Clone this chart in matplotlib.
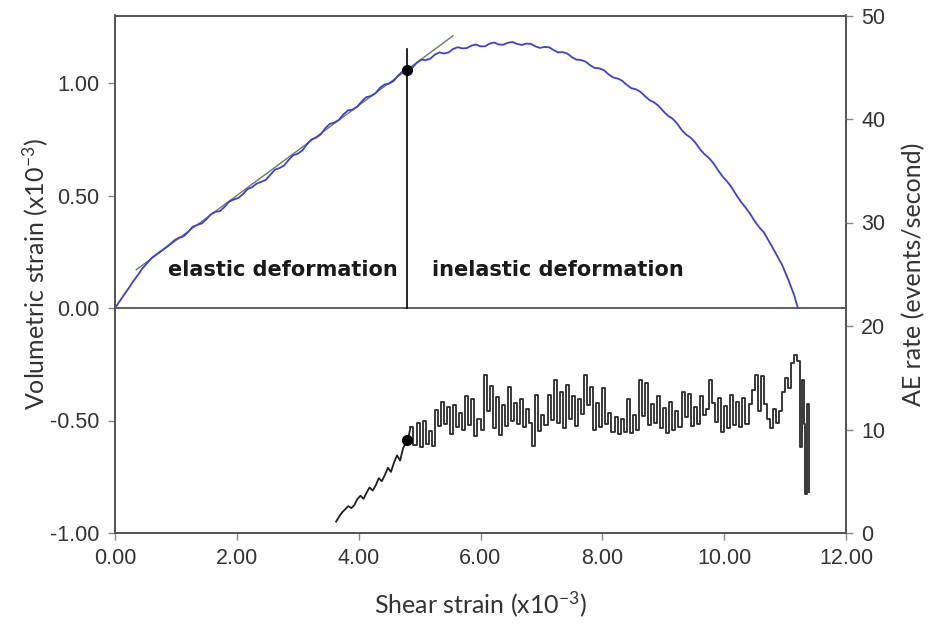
import matplotlib
matplotlib.use("Agg")
import matplotlib.pyplot as plt

# ---------------- data ----------------
# volumetric strain curve (left axis) vs shear strain (x10^-3)
vol_x = [0.00, 0.08, 0.15, 0.23, 0.30, 0.38, 0.45, 0.53, 0.60, 0.68, 0.75, 0.83, 0.90, 0.975,
         1.05, 1.125, 1.20, 1.275, 1.35, 1.425, 1.50, 1.575, 1.65, 1.725, 1.80, 1.875, 1.95,
         2.025, 2.10, 2.175, 2.25, 2.32, 2.40, 2.475, 2.55, 2.625, 2.70, 2.775, 2.85, 2.925,
         3.00, 3.075, 3.15, 3.225, 3.30, 3.375, 3.45, 3.525, 3.60, 3.675, 3.75, 3.825, 3.90,
         3.975, 4.05, 4.125, 4.20, 4.275, 4.35, 4.425, 4.50, 4.575, 4.65, 4.725, 4.80, 4.875,
         4.95, 5.025, 5.10, 5.175, 5.25, 5.325, 5.40, 5.475, 5.55, 5.625, 5.70, 5.775, 5.85,
         5.925, 6.00, 6.075, 6.15, 6.225, 6.30, 6.375, 6.45, 6.525, 6.60, 6.675, 6.75, 6.825,
         6.90, 6.975, 7.05, 7.125, 7.20, 7.275, 7.35, 7.425, 7.50, 7.575, 7.65, 7.725, 7.80,
         7.875, 7.95, 8.025, 8.10, 8.175, 8.25, 8.325, 8.40, 8.475, 8.55, 8.625, 8.70, 8.775,
         8.85, 8.925, 9.00, 9.075, 9.15, 9.225, 9.30, 9.375, 9.45, 9.525, 9.60, 9.675, 9.75,
         9.825, 9.90, 9.975, 10.05, 10.125, 10.20, 10.275, 10.35, 10.425, 10.50, 10.575,
         10.65, 10.80, 10.95, 11.05, 11.15, 11.21]
vol_y = [0.000, 0.031, 0.060, 0.090, 0.119, 0.148, 0.176, 0.200, 0.222, 0.238, 0.252, 0.268, 0.283, 0.301,
         0.312, 0.318, 0.338, 0.361, 0.369, 0.376, 0.394, 0.417, 0.427, 0.431, 0.450, 0.473, 0.482,
         0.489, 0.506, 0.528, 0.537, 0.552, 0.561, 0.569, 0.592, 0.615, 0.622, 0.633, 0.658, 0.679,
         0.686, 0.700, 0.727, 0.749, 0.757, 0.771, 0.798, 0.818, 0.824, 0.836, 0.861, 0.878, 0.882,
         0.894, 0.918, 0.937, 0.942, 0.954, 0.979, 0.993, 0.997, 1.009, 1.034, 1.052, 1.058, 1.066,
         1.089, 1.103, 1.102, 1.108, 1.126, 1.136, 1.131, 1.136, 1.151, 1.159, 1.154, 1.155, 1.166,
         1.171, 1.163, 1.163, 1.175, 1.180, 1.171, 1.170, 1.179, 1.182, 1.174, 1.169, 1.175, 1.174,
         1.163, 1.156, 1.160, 1.159, 1.146, 1.136, 1.137, 1.131, 1.115, 1.104, 1.102, 1.095, 1.079,
         1.067, 1.065, 1.057, 1.039, 1.025, 1.020, 1.010, 0.992, 0.977, 0.972, 0.961, 0.942, 0.924,
         0.914, 0.898, 0.875, 0.855, 0.842, 0.821, 0.792, 0.771, 0.757, 0.736, 0.707, 0.684, 0.667,
         0.643, 0.612, 0.584, 0.562, 0.535, 0.502, 0.472, 0.447, 0.419, 0.386, 0.359,
         0.337, 0.266, 0.192, 0.128, 0.056, 0.000]

# tangent (elastic) line and yield marker
tan_x = [0.35, 5.55]
tan_y = [0.17, 1.21]
yield_x = 4.80
yield_vol = 1.058
yield_line_top = 1.15
yield_ae = 9.0

# acoustic emission rate (right axis): early ramp, then stepped record
ae_ramp_x = [3.63, 3.68, 3.73, 3.78, 3.83, 3.88, 3.93, 3.98, 4.03, 4.08, 4.13, 4.18, 4.23, 4.28,
             4.33, 4.38, 4.43, 4.48, 4.53, 4.58, 4.63, 4.68, 4.73, 4.78, 4.82, 4.85]
ae_ramp_y = [1.1, 1.6, 2.0, 2.3, 2.6, 2.4, 2.7, 3.3, 3.6, 3.3, 3.9, 4.4, 4.1, 4.6,
             5.3, 5.0, 5.6, 6.3, 5.9, 6.8, 7.5, 7.0, 8.2, 8.8, 9.3, 10.2]
ae_x = [4.85, 4.90, 4.95, 5.00, 5.05, 5.10, 5.15, 5.20, 5.25, 5.30, 5.35, 5.40, 5.45, 5.50,
        5.55, 5.60, 5.65, 5.70, 5.75, 5.80, 5.85, 5.90, 5.95, 6.00, 6.05, 6.10, 6.15, 6.20,
        6.25, 6.30, 6.35, 6.40, 6.45, 6.50, 6.55, 6.60, 6.65, 6.70, 6.75, 6.80, 6.85, 6.90,
        6.95, 7.00, 7.05, 7.10, 7.15, 7.20, 7.25, 7.30, 7.35, 7.40, 7.45, 7.50, 7.55, 7.60,
        7.65, 7.70, 7.75, 7.80, 7.85, 7.90, 7.95, 8.00, 8.05, 8.10, 8.15, 8.20, 8.25, 8.30,
        8.35, 8.40, 8.45, 8.50, 8.55, 8.60, 8.65, 8.70, 8.75, 8.80, 8.85, 8.90, 8.95, 9.00,
        9.05, 9.10, 9.15, 9.20, 9.25, 9.30, 9.35, 9.40, 9.45, 9.50, 9.55, 9.60, 9.65, 9.70,
        9.75, 9.80, 9.85, 9.90, 9.95, 10.00, 10.05, 10.10, 10.15, 10.20, 10.25, 10.30, 10.35,
        10.40, 10.45, 10.50, 10.55, 10.60, 10.65, 10.70, 10.75, 10.80, 10.85, 10.90, 10.95,
        11.00, 11.05, 11.10, 11.15, 11.20, 11.25, 11.28, 11.31, 11.33, 11.36, 11.39]
ae_y = [10.2, 8.5, 10.6, 8.3, 10.8, 8.6, 9.9, 8.4, 11.9, 10.3, 12.7, 10.5, 12.2, 9.6,
        12.4, 10.2, 11.6, 10.0, 13.2, 10.4, 12.9, 9.4, 11.0, 10.0, 15.3, 11.8, 14.2, 10.1,
        13.1, 9.5, 12.4, 10.3, 14.1, 10.8, 12.6, 10.5, 12.9, 10.2, 12.0, 10.6, 8.4, 13.3,
        9.9, 11.4, 10.4, 13.3, 10.9, 14.8, 10.6, 13.6, 10.1, 14.3, 11.0, 13.2, 10.3, 12.9,
        11.5, 15.3, 12.4, 14.1, 10.0, 12.6, 10.2, 14.0, 10.5, 11.6, 9.8, 11.2, 9.6, 11.0,
        9.8, 12.9, 9.7, 11.4, 10.0, 14.8, 11.3, 14.5, 10.4, 12.5, 10.6, 13.2, 10.1, 12.1,
        9.7, 12.7, 10.0, 11.8, 10.2, 13.6, 11.2, 13.4, 10.3, 12.2, 10.5, 13.2, 11.4, 12.0,
        14.8, 12.6, 10.7, 13.0, 9.8, 12.3, 10.1, 13.3, 10.4, 12.7, 10.2, 13.0, 10.5,
        12.5, 13.8, 15.3, 11.8, 15.2, 12.5, 11.0, 10.1, 12.0, 10.6, 11.8, 13.6,
        15.0, 14.0, 16.4, 17.2, 16.6, 8.3, 14.8, 10.5, 3.8, 12.5, 4.0]

x_ticks = [0, 2, 4, 6, 8, 10, 12]
left_ticks = [-1.0, -0.5, 0.0, 0.5, 1.0]
right_ticks = [0, 10, 20, 30, 40, 50]

# ---------------- figure ----------------
plt.rcParams["mathtext.fontset"] = "custom"
plt.rcParams["mathtext.rm"] = "Lato"
plt.rcParams["mathtext.it"] = "Lato"

W, H = 932, 625
fig = plt.figure(figsize=(W / 100, H / 100), dpi=100)
ax = fig.add_axes([115 / W, 1 - 533 / H, (846 - 115) / W, (533 - 15.5) / H])
ax2 = ax.twinx()

spine_c = "#555555"
tick_font = dict(family="Liberation Sans", size=15.5, color="#333333")
label_font = ["Lato", "DejaVu Sans"]

ax.plot(vol_x, vol_y, color="#3f43c0", lw=1.3, zorder=3)
ax.plot(tan_x, tan_y, color="#6d7a62", lw=1.0, zorder=2)
ax.plot([yield_x, yield_x], [0, yield_line_top], color="black", lw=1.2, zorder=4)
ax.plot([yield_x], [yield_vol], "o", color="black", ms=7, zorder=5)
ax.axhline(0, color="#444444", lw=1.2, zorder=1)

ax2.plot(ae_ramp_x, ae_ramp_y, color="#1f1f1f", lw=1.3, zorder=3)
ax2.plot(ae_x, ae_y, color="#2a2a2a", lw=1.3, drawstyle="steps-post", zorder=3)
ax2.plot([yield_x], [yield_ae], "o", color="black", ms=7, zorder=5)

ax.set_xlim(0, 12)
ax.set_ylim(-1.0, 1.3)
ax2.set_ylim(0, 50)

ax.set_xticks(x_ticks)
ax.set_xticklabels([f"{v:.2f}" for v in x_ticks], fontdict=tick_font)
ax.set_yticks(left_ticks)
ax.set_yticklabels([f"{v:.2f}" for v in left_ticks], fontdict=tick_font)
ax2.set_yticks(right_ticks)
ax2.set_yticklabels([str(v) for v in right_ticks], fontdict=tick_font)

for a in (ax, ax2):
    for s in a.spines.values():
        s.set_color(spine_c)
        s.set_linewidth(1.3)
    a.tick_params(direction="out", length=5, width=1, color="#888888", pad=6)

ax.set_xlabel(r"Shear strain (x10$^{-3}$)", family=label_font, size=18, color="#333333", labelpad=14)
ax.set_ylabel(r"Volumetric strain (x10$^{-3}$)", family=label_font, size=18, color="#333333", labelpad=0)
ax2.set_ylabel("AE rate (events/second)", family=label_font, size=18, color="#333333", labelpad=12)

ax.text(0.87, 0.17, "elastic deformation", family="DejaVu Sans", weight="bold",
        size=15, color="#1a1a1a", va="center", ha="left")
ax.text(5.2, 0.17, "inelastic deformation", family="DejaVu Sans", weight="bold",
        size=15, color="#1a1a1a", va="center", ha="left")

fig.savefig("out.png", dpi=100)
